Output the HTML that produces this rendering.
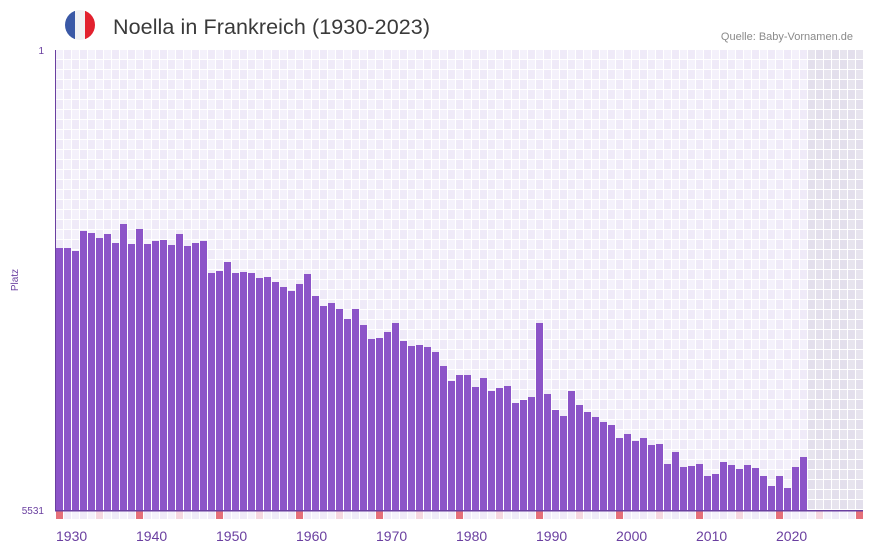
<!DOCTYPE html>
<html><head><meta charset="utf-8"><style>
html,body{margin:0;padding:0;background:#fff;}
svg{display:block;font-family:"Liberation Sans",sans-serif;}
</style></head><body>
<svg id="s" width="873" height="552" xmlns="http://www.w3.org/2000/svg">
<defs><clipPath id="fc"><circle cx="80" cy="25" r="15"/></clipPath></defs>
<g clip-path="url(#fc)">
<rect x="65" y="10" width="10" height="30" fill="#3a58a6"/>
<rect x="75" y="10" width="10" height="30" fill="#f1f1f4"/>
<rect x="85" y="10" width="10" height="30" fill="#e2212e"/>
</g>
<text x="113" y="34" font-size="21.5" fill="#3a3a3a" textLength="317">Noella in Frankreich (1930-2023)</text>
<text x="853" y="40" font-size="11" fill="#8a8a8a" text-anchor="end">Quelle: Baby-Vornamen.de</text>
<text x="44" y="54" font-size="10" fill="#6a3fa0" text-anchor="end">1</text>
<text x="44" y="514" font-size="10" fill="#6a3fa0" text-anchor="end">5531</text>
<text transform="translate(18,280) rotate(-90)" font-size="10" fill="#6a3fa0" text-anchor="middle">Platz</text>
<g id="g"></g>
</svg>
<script>
var g=document.getElementById('g'),h='';
var tops=[248,248,251,231,233,238,234,243,224,244,229,244,241,240,245,234,246,243,241,273,271,262,273,272,273,278,277,282,287,291,284,274,296,306,303,309,319,309,325,339,338,332,323,341,346,345,347,352,366,381,375,375,387,378,391,388,386,403,400,397,323,394,410,416,391,405,412,417,422,425,438,434,441,438,445,444,464,452,467,466,464,476,474,462,465,469,465,468,476,486,476,488,467,457];
for(var i=0;i<101;i++){var x=56+i*8;var grey=i>=94;
 for(var r=0;r<46;r++){var y=50+r*10;var c=grey?((i+r)%2?'#e3dfec':'#e7e4ee'):((i+r)%2?'#efeaf8':'#f4f1fb');
  h+='<rect x="'+x+'" y="'+y+'" width="7" height="9" fill="'+c+'"/>';}
 var yr=1930+i,mc=yr%10==0?'#e5707a':(yr%10==5?'#f5d7e0':(i%2?'#efeaf8':'#f4f1fb'));
 h+='<rect x="'+x+'" y="511" width="7" height="8" fill="'+mc+'"/>';
 if(i<tops.length)h+='<rect x="'+x+'" y="'+tops[i]+'" width="7" height="'+(510-tops[i])+'" fill="#8c54c8"/>';
 if(yr%10==0&&yr<2030)h+='<text x="'+x+'" y="541" font-size="14" fill="#6a3fa0">'+yr+'</text>';}
h+='<rect x="55" y="50" width="1" height="461" fill="#6a3fa0"/><rect x="55" y="510" width="808" height="1.5" fill="#6a3fa0"/>';
g.innerHTML=h;
</script>
</body></html>
